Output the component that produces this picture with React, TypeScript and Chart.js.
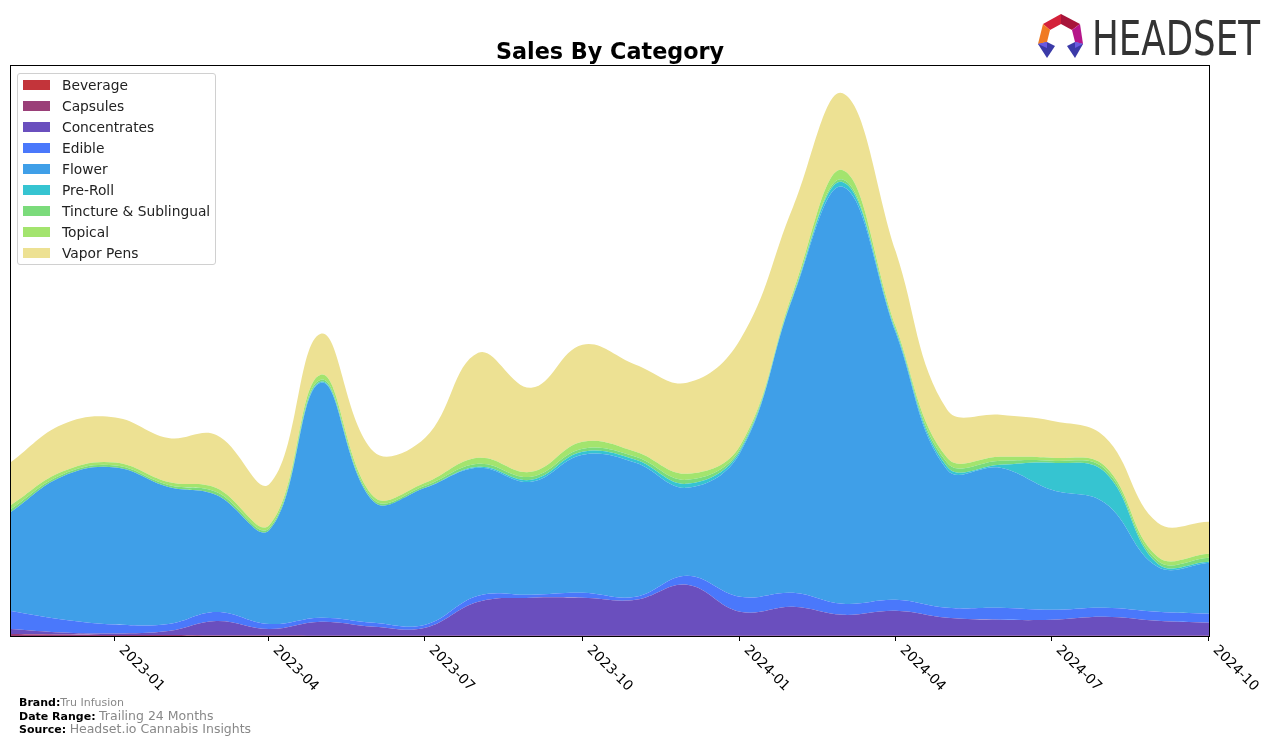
import React, { useEffect, useRef } from "react";
import { Chart, registerables } from "chart.js";

Chart.register(...registerables);

// ---- data (monthly sales, arbitrary units) ----
const months = [
  "2022-11", "2022-12", "2023-01", "2023-02", "2023-03", "2023-04",
  "2023-05", "2023-06", "2023-07", "2023-08", "2023-09", "2023-10",
  "2023-11", "2023-12", "2024-01", "2024-02", "2024-03", "2024-04",
  "2024-05", "2024-06", "2024-07", "2024-08", "2024-09", "2024-10",
];
const beverage = [0, 0, 0, 0, 0, 0, 0, 0, 0, 0, 0, 0, 0, 0, 0, 0, 0, 0, 0, 0, 0, 0, 0, 0];
const capsules = [2, 1.5, 1, 1, 0.5, 0.5, 0.3, 0.2, 0.2, 0.2, 0.2, 0.2, 0.2, 0.2, 0.2, 0.2, 0.2, 0.2, 0.2, 0.2, 0.2, 0.2, 0.2, 0.2];
const concentrates = [5, 2, 1.5, 4, 14.5, 6.5, 14, 9, 8, 34, 38, 38, 36, 51, 24, 29, 21, 25, 18, 16, 16, 19, 15, 13];
const edible = [18, 13, 9, 7, 9, 5, 4, 4, 3, 6, 3, 5, 3, 9, 15, 14, 11, 11, 10, 12, 10, 9, 9, 9];
const flower = [99, 143, 157, 137, 117, 94, 235, 121, 137, 128, 113, 138, 134, 88, 144, 296, 417, 267, 138, 140, 120, 105, 45, 51];
const preRoll = [0, 0, 0, 0, 0, 0, 1, 0, 0, 1, 2, 3, 3, 4, 2, 1, 4.6, 2, 3, 3, 27, 31, 3, 1];
const tincture = [3, 2, 2, 2, 3, 2, 2, 2, 2, 3, 3, 3, 3, 4, 2, 1, 2.7, 1, 4, 4, 2, 3, 3, 4];
const topical = [4, 3, 3, 3, 4, 3, 5, 3, 3, 6, 5, 7, 5, 6, 3, 3, 9.3, 3, 5, 4, 3, 3, 4, 4];
const vaporPens = [43, 47, 45, 44, 53, 41, 41, 45, 45, 105, 84, 97, 87, 91, 106, 85, 77, 75, 48, 42, 37, 29, 34, 32];

const tickLabels = ["2023-01", "2023-04", "2023-07", "2023-10", "2024-01", "2024-04", "2024-07", "2024-10"];

const seriesNames = ["Beverage", "Capsules", "Concentrates", "Edible", "Flower", "Pre-Roll", "Tincture & Sublingual", "Topical", "Vapor Pens"];
const seriesColors = ["#c3343a", "#9a3f78", "#6a4fbe", "#4a78fb", "#3f9fe8", "#36c4d1", "#7bdb7b", "#a3e46e", "#ede193"];
const seriesValues = [beverage, capsules, concentrates, edible, flower, preRoll, tincture, topical, vaporPens];

const DAY = 86400000;
const origin = Date.UTC(2022, 10, 1);
const toDay = (ym: string) => {
  const [y, m] = ym.split("-").map(Number);
  return (Date.UTC(y, m - 1, 1) - origin) / DAY;
};

const FONT = "'DejaVu Sans', sans-serif";

const framePlugin = {
  id: "frameTicks",
  afterDraw(chart: any) {
    const { ctx, chartArea } = chart;
    const { left, top, right, bottom } = chartArea;
    const xs = chart.scales.x;
    ctx.save();
    ctx.strokeStyle = "#000";
    ctx.lineWidth = 1;
    ctx.strokeRect(left - 0.5, top - 0.5, right - left + 1, bottom - top + 1);
    ctx.fillStyle = "#000";
    ctx.font = `13.9px ${FONT}`;
    ctx.textAlign = "left";
    ctx.textBaseline = "top";
    tickLabels.forEach((lab) => {
      const x = Math.round(xs.getPixelForValue(toDay(lab)));
      ctx.beginPath();
      ctx.moveTo(x - 0.5, bottom);
      ctx.lineTo(x - 0.5, bottom + 5);
      ctx.stroke();
      ctx.save();
      ctx.translate(x + 6, bottom + 12);
      ctx.rotate(Math.PI / 4);
      ctx.fillText(lab, 0, -7);
      ctx.restore();
    });
    ctx.restore();
  },
};

function Logo() {
  return (
    <svg width={240} height={60} style={{ position: "absolute", left: 1030, top: 5 }} viewBox="1030 5 240 60">
      <polygon points="1043,24 1061,14 1061,24 1050,30" fill="#d4213a" />
      <polygon points="1061,14 1080,24 1072,30 1061,24" fill="#a8153a" />
      <polygon points="1080,24 1083,44 1075,42 1072,30" fill="#b5168a" />
      <polygon points="1043,24 1050,30 1047,42 1038,44" fill="#f07a22" />
      <polygon points="1038,44 1047,42 1055,46 1047,58" fill="#3b3aa8" />
      <polygon points="1083,44 1075,42 1067,46 1075,58" fill="#3b3aa8" />
      <polygon points="1038,44 1047,42 1047,48" fill="#6a5ae0" />
      <polygon points="1083,44 1075,42 1075,48" fill="#6a5ae0" />
      <text x={1092} y={55} fontFamily={FONT} fontSize={48} fill="#333" textLength={168} lengthAdjust="spacingAndGlyphs">HEADSET</text>
    </svg>
  );
}

export default function App() {
  const ref = useRef<HTMLCanvasElement>(null);

  useEffect(() => {
    if (!ref.current) return;
    const datasets = seriesNames.map((name, i) => ({
      label: name,
      data: months.map((m, j) => ({ x: toDay(m), y: seriesValues[i][j] })),
      backgroundColor: seriesColors[i],
      borderColor: seriesColors[i],
      borderWidth: 0,
      pointRadius: 0,
      fill: i === 0 ? "origin" : "-1",
      tension: 0.4,
    }));
    const chart = new Chart(ref.current, {
      type: "line",
      data: { datasets },
      options: {
        animation: false,
        responsive: false,
        maintainAspectRatio: false,
        layout: { padding: { left: 11, top: 66, right: 67, bottom: 108 } },
        scales: {
          x: { type: "linear", min: 0, max: toDay("2024-10"), display: false },
          y: { stacked: true, min: 0, max: 570, display: false },
        },
        plugins: {
          legend: { display: false },
          title: { display: false },
          tooltip: { enabled: false },
        },
        elements: { line: { borderWidth: 0 } },
      },
      plugins: [framePlugin],
    });
    return () => chart.destroy();
  }, []);

  const footLine = { height: 13, lineHeight: "13px" };

  return (
    <div style={{ position: "fixed", left: 0, top: 0, width: 1276, height: 744, background: "#fff", fontFamily: FONT }}>
      <canvas ref={ref} width={1276} height={744} style={{ position: "absolute", left: 0, top: 0 }} />
      <div style={{ position: "absolute", left: 0, width: 1220, top: 36, textAlign: "center", fontSize: 22.3, fontWeight: "bold", color: "#000", lineHeight: "30px" }}>
        Sales By Category
      </div>
      <div style={{ position: "absolute", left: 17, top: 73, width: 197, height: 190, border: "1px solid #d0d0d0", borderRadius: 3, background: "rgba(255,255,255,0.85)" }}>
        {seriesNames.map((n, i) => (
          <div key={n} style={{ position: "absolute", left: 0, top: 4 + i * 21, height: 16, width: 197 }}>
            <div style={{ position: "absolute", left: 5, top: 2, width: 27, height: 10, background: seriesColors[i] }} />
            <div style={{ position: "absolute", left: 44, top: -1, fontSize: 13.8, lineHeight: "16px", color: "#222", whiteSpace: "nowrap" }}>{n}</div>
          </div>
        ))}
      </div>
      <div style={{ position: "absolute", left: 19, top: 696, fontSize: 11, whiteSpace: "nowrap" }}>
        <div style={footLine}><b>Brand:</b><span style={{ color: "#888" }}>Tru Infusion</span></div>
        <div style={footLine}><b>Date Range:</b> <span style={{ color: "#888", fontSize: 12.5 }}>Trailing 24 Months</span></div>
        <div style={footLine}><b>Source:</b> <span style={{ color: "#888", fontSize: 12.5 }}>Headset.io Cannabis Insights</span></div>
      </div>
      <Logo />
    </div>
  );
}
